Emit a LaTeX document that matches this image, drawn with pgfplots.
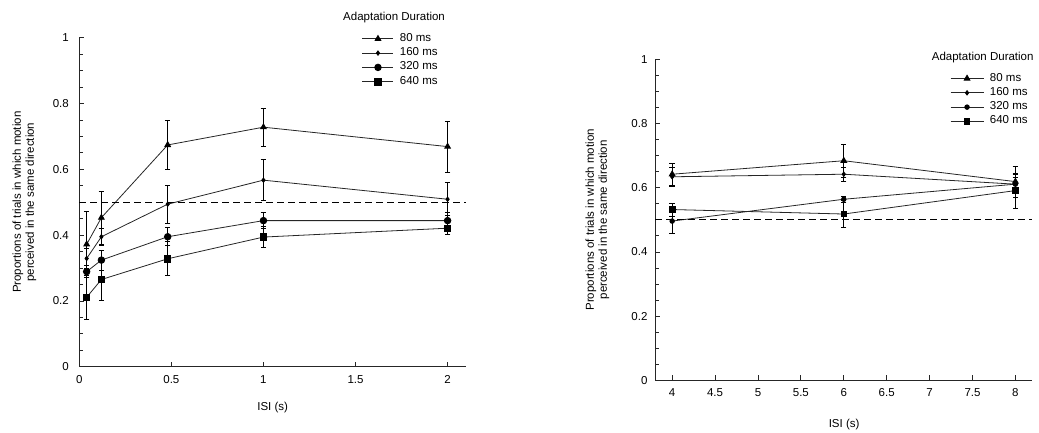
\documentclass[border=0pt]{standalone}
\usepackage{fontspec}
\setmainfont{Liberation Sans}
\usepackage{pgfplots}
\usepackage{pgfplotstable}
\pgfplotsset{compat=1.18}

% short ISI (left panel): x, proportion, error
\pgfplotstableread{
x    y     e
0.04 0.372 0.100
0.12 0.453 0.080
0.48 0.674 0.075
1.00 0.728 0.058
2.00 0.669 0.078
}\shortA
\pgfplotstableread{
x    y     e
0.04 0.329 0.030
0.12 0.395 0.025
0.48 0.494 0.058
1.00 0.567 0.063
2.00 0.509 0.050
}\shortB
\pgfplotstableread{
x    y     e
0.04 0.289 0.018
0.12 0.324 0.030
0.48 0.395 0.027
1.00 0.444 0.025
2.00 0.444 0.025
}\shortC
\pgfplotstableread{
x    y     e
0.04 0.211 0.066
0.12 0.265 0.062
0.48 0.328 0.052
1.00 0.394 0.031
2.00 0.421 0.020
}\shortD

% long ISI (right panel)
\pgfplotstableread{
x y     e
4 0.642 0.034
6 0.684 0.051
8 0.619 0.048
}\longA
\pgfplotstableread{
x y     e
4 0.634 0.030
6 0.642 0.022
8 0.611 0.030
}\longB
\pgfplotstableread{
x y     e
4 0.496 0.038
6 0.564 0.010
8 0.611 0.020
}\longC
\pgfplotstableread{
x y     e
4 0.532 0.020
6 0.518 0.042
8 0.591 0.055
}\longD

\pgfplotsset{
  isi/.style={
    scale only axis, clip=false,
    axis lines=left, axis line style={-,black!85,line width=0.8pt},
    tick align=inside, tick style={black!85,line width=0.8pt},
    major tick length=5pt, minor tick length=4pt,
    ymin=0, ymax=1, ytick={0,0.2,0.4,0.6,0.8,1}, minor y tick num=3,
    font=\fontsize{11.5}{13}\selectfont,
    /pgf/number format/assume math mode=true,
    xlabel={ISI (s)},
    ylabel={Proportions of trials in which motion\\perceived in the same direction},
    ylabel style={align=center, rotate=0, anchor=center},
    xlabel style={anchor=center},
    xticklabel style={yshift=-5pt},
    legend cell align=left,
    legend image code/.code={\draw[mark repeat=2,mark phase=2,##1]
      plot coordinates {(0pt,0pt)(15.5pt,0pt)(31pt,0pt)};},
    legend style={draw=none, fill=none, anchor=north west,
      font=\fontsize{11.5}{13}\selectfont,
      nodes={inner sep=0pt, text height=7pt, text depth=2pt},
      row sep=5.3pt, /tikz/every odd column/.append style={column sep=6pt}},
    every axis plot/.append style={black!85, line width=0.8pt},
  },
  eb/.style={error bars/y dir=both, error bars/y explicit,
    error bars/error bar style={black, line width=0.8pt},
    error bars/error mark options={rotate=90, mark size=2.7pt, black, line width=0.8pt}},
  sA/.style={eb, mark=triangle*, mark size=3.3pt, mark options={black}},
  sB/.style={eb, mark=diamond*, mark size=2.2pt, mark options={black}},
  sC/.style={eb, mark=*, mark size=3.3pt, mark options={black}},
  sD/.style={eb, mark=square*, mark size=3.2pt, mark options={black}},
}

\begin{document}
\begin{tikzpicture}
\useasboundingbox (0,0) rectangle (1039pt,432pt);

\begin{axis}[isi, at={(79.3pt,65.3pt)}, anchor=south west,
  width=386.7pt, height=329pt,
  xmin=0, xmax=2.1, xtick={0,0.5,1,1.5,2},
  yticklabel style={xshift=-7pt},
  xlabel style={at={(axis description cs:0.5,-0.125)}},
  ylabel style={at={(axis description cs:-0.142,0.5)}},
  legend style={at={(axis description cs:0.723,1.017)}}]
\addplot[sA] table[y error=e] {\shortA};
\addlegendentry{80 ms}
\addplot[sB] table[y error=e] {\shortB};
\addlegendentry{160 ms}
\addplot[sC] table[y error=e] {\shortC};
\addlegendentry{320 ms}
\addplot[sD] table[y error=e] {\shortD};
\addlegendentry{640 ms}
\addplot[black, line width=0.8pt, dash pattern=on 7pt off 4pt, mark=none, forget plot]
  coordinates {(0,0.5)(2.1,0.5)};
\node[anchor=west, inner sep=0pt] at (axis description cs:0.682,1.060) {Adaptation Duration};
\end{axis}

\begin{axis}[isi, at={(655pt,51.7pt)}, anchor=south west,
  width=376.7pt, height=321pt,
  xmin=3.8, xmax=8.19, xtick={4,4.5,5,5.5,6,6.5,7,7.5,8},
  yticklabel style={xshift=-4pt},
  xlabel style={at={(axis description cs:0.502,-0.139)}},
  ylabel style={at={(axis description cs:-0.153,0.5)}},
  legend style={at={(axis description cs:0.775,0.961)}},
  legend image code/.code={\draw[mark repeat=2,mark phase=2,#1]
      plot coordinates {(0pt,0pt)(16.5pt,0pt)(33pt,0pt)};}]
\addplot[sA] table[y error=e] {\longA};
\addlegendentry{80 ms}
\addplot[sB] table[y error=e] {\longB};
\addlegendentry{160 ms}
\addplot[sC, mark size=2.3pt] table[y error=e] {\longC};
\addlegendentry{320 ms}
\addplot[sD, mark size=2.8pt] table[y error=e] {\longD};
\addlegendentry{640 ms}
\addplot[black, line width=0.8pt, dash pattern=on 7pt off 4pt, mark=none, forget plot]
  coordinates {(3.8,0.5)(8.19,0.5)};
\node[anchor=west, inner sep=0pt] at (axis description cs:0.7345,1.007) {Adaptation Duration};
\end{axis}
\end{tikzpicture}
\end{document}
